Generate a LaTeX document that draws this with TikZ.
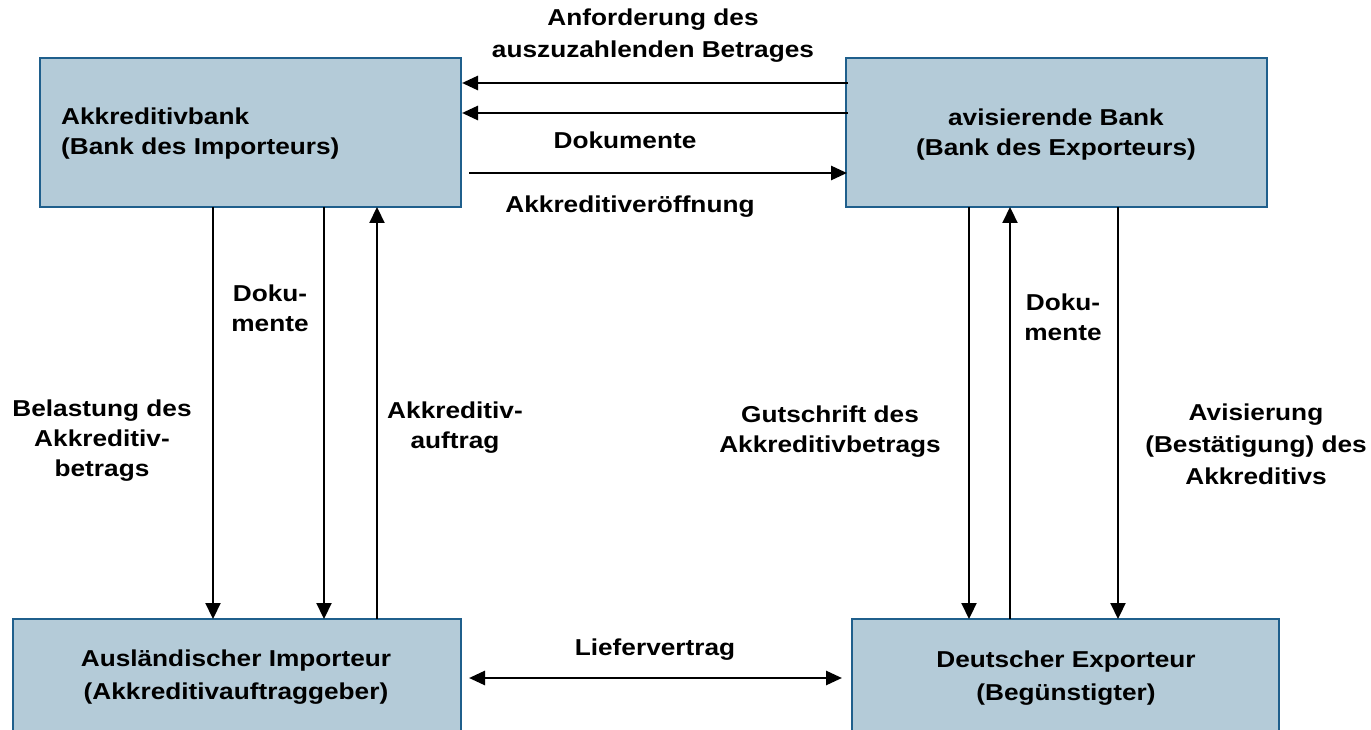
\documentclass[tikz,border=0pt]{standalone}
\usepackage{fontspec}
\setmainfont{Liberation Sans}[FakeStretch=1.14]
\usetikzlibrary{arrows.meta,calc}
\definecolor{boxfill}{RGB}{180,203,216}
\definecolor{boxline}{RGB}{31,95,140}
\tikzset{
  box/.style={draw=boxline, fill=boxfill, line width=2pt, rectangle, outer sep=0pt, inner sep=0pt},
  lbl/.style={font=\bfseries\fontsize{23}{30}\selectfont, align=center, inner sep=0pt, text=black},
  blbl/.style={font=\bfseries\fontsize{23}{33}\selectfont, align=center, inner sep=0pt, text=black},
  arr/.style={-{Triangle[length=16pt,width=14pt]}, line width=2.7pt},
  varr/.style={-{Triangle[length=16pt,width=15pt]}, line width=2.2pt},
  darr/.style={{Triangle[length=16pt,width=14pt]}-{Triangle[length=16pt,width=14pt]}, line width=2.7pt}
}
\begin{document}
\begin{tikzpicture}[x=1pt,y=-1pt]
\useasboundingbox (0,0) rectangle (1371,730);
\clip (0,0) rectangle (1371,730);
% boxes
\node[box, minimum width=421pt, minimum height=149pt] (tl) at (250.5,132.5) {};
\node[box, minimum width=421pt, minimum height=149pt] (tr) at (1056.5,132.5) {};
\node[box, minimum width=448pt, minimum height=149pt] (bl) at (237,693.5) {};
\node[box, minimum width=427pt, minimum height=149pt] (br) at (1065.5,693.5) {};
% box texts
\node[lbl, anchor=west, align=left] (tlt) at (61,134) {Akkreditivbank\\(Bank des Importeurs)};
\node[lbl] (trt) at (1056,134.5) {avisierende Bank\\(Bank des Exporteurs)};
\node[blbl] (blt) at (236,677) {Ausländischer Importeur\\(Akkreditivauftraggeber)};
\node[blbl] (brt) at (1066,678) {Deutscher Exporteur\\(Begünstigter)};
% top arrows
\draw[arr] ($(tr.north west)+(2,25)$) -- ($(tl.north east)+(1,25)$);
\draw[arr] ($(tr.north west)+(2,55)$) -- ($(tl.north east)+(1,55)$);
\draw[arr] ($(tl.north east)+(8,115)$) -- ($(tr.north west)+(1,115)$);
\node[lbl, font=\bfseries\fontsize{23}{32}\selectfont] (anf) at (653,36) {Anforderung des\\auszuzahlenden Betrages};
\node[lbl] (dok1) at (625,140) {Dokumente};
\node[lbl] (aoef) at (630,207) {Akkreditiveröffnung};
% left verticals
\draw[varr] ($(tl.south west)+(173,0)$) -- ($(bl.north west)+(200,0)$);
\draw[varr] ($(tl.south west)+(284,0)$) -- ($(bl.north west)+(311,0)$);
\draw[varr] ($(bl.north west)+(364,0)$) -- ($(tl.south west)+(337,0)$);
\node[lbl] (dok2) at (270,308) {Doku-\\mente};
\node[lbl] (bel) at (102,441) {Belastung des\\Akkreditiv-\\betrags};
\node[lbl] (auf) at (455,428) {Akkreditiv-\\auftrag};
% right verticals
\draw[varr] ($(tr.south west)+(123,0)$) -- ($(br.north west)+(117,0)$);
\draw[varr] ($(br.north west)+(158,0)$) -- ($(tr.south west)+(164,0)$);
\draw[varr] ($(tr.south west)+(272,0)$) -- ($(br.north west)+(266,0)$);
\node[lbl] (dok3) at (1063,317) {Doku-\\mente};
\node[lbl] (gut) at (830,432) {Gutschrift des\\Akkreditivbetrags};
\node[lbl, font=\bfseries\fontsize{23}{32}\selectfont] (avi) at (1256,444) {Avisierung\\(Bestätigung) des\\Akkreditivs};
% bottom
\draw[darr] ($(bl.north east)+(8,59)$) -- ($(br.north west)+(-10,59)$);
\node[lbl] (lief) at (655,650) {Liefervertrag};
\end{tikzpicture}
\end{document}
